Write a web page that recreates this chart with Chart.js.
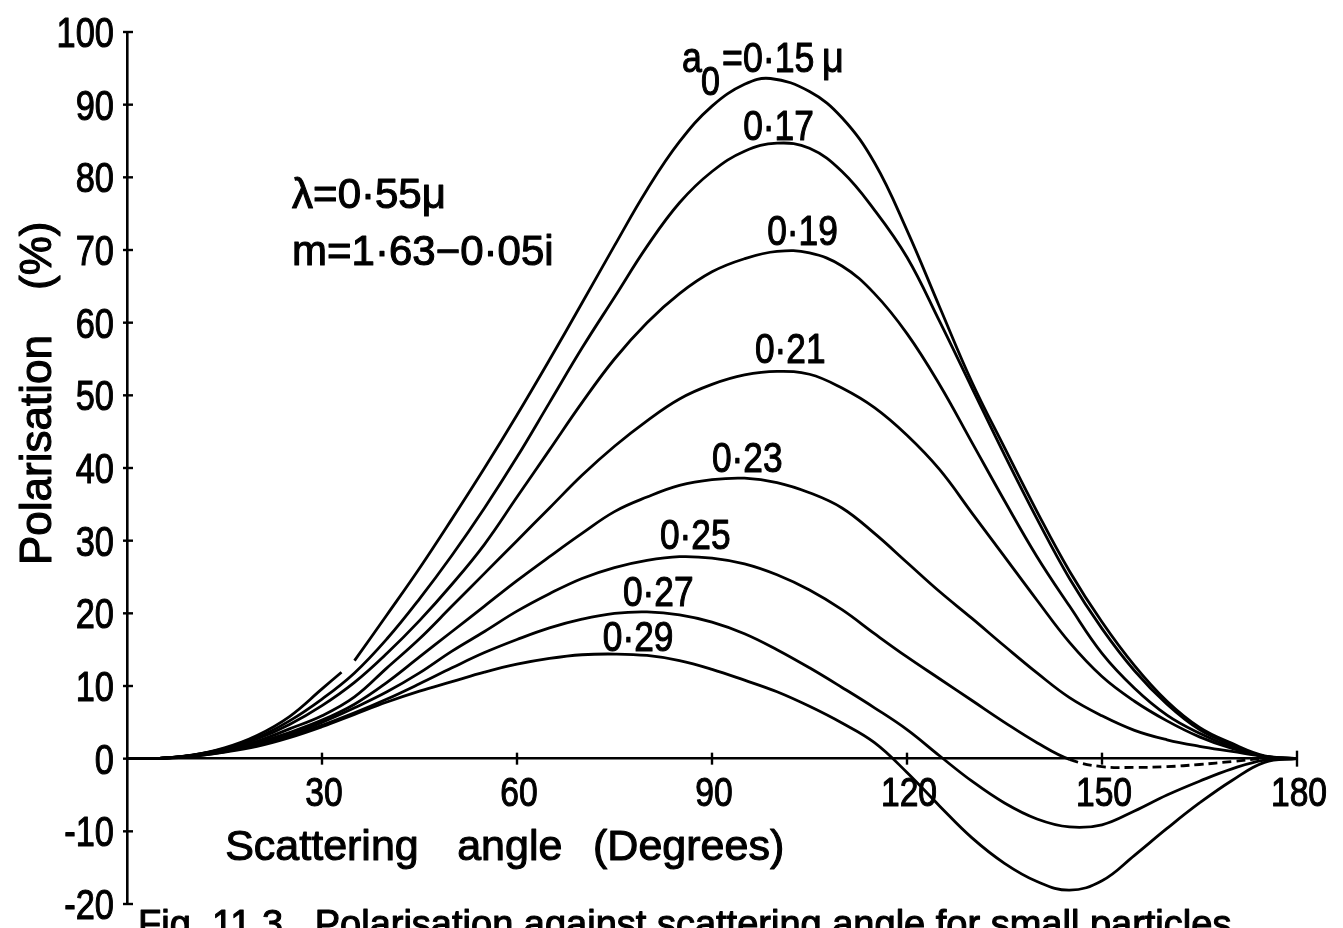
<!DOCTYPE html>
<html>
<head>
<meta charset="utf-8">
<script src="https://cdn.jsdelivr.net/npm/chart.js@4.4.1/dist/chart.umd.min.js"></script>
<style>
  html, body { margin: 0; padding: 0; background: #fff; }
  #wrap { width: 1343px; height: 928px; position: relative; }
</style>
</head>
<body>
<div id="wrap"><canvas id="chart" width="1343" height="928"></canvas></div>
<script>
// Scattering angle (degrees) shared by most curves
const angles = [0,5,10,15,20,25,30,35,40,45,50,55,60,65,70,75,80,85,90,95,100,105,110,115,120,125,130,135,140,145,150,155,160,165,170,175,180];

// a0 = 0.15 µm has its own angle list (the pen lifts just past 33°)
const angles015 = [0,5,10,15,20,25,30,33,34,35,40,45,50,55,60,65,70,75,80,85,90,95,99,105,110,115,120,125,130,135,140,145,150,155,160,165,170,175,180];
const pol015 = [0,0.05,0.5,1.5,3.2,5.8,9.6,11.9,null,13.5,19.8,26.2,33,40,47.3,54.9,62.7,70.6,78.3,84.9,89.8,92.8,93.6,91.8,88.2,82,72.7,62.2,51.8,42.8,34,25.8,18.8,12.8,7.9,4.3,2.1,0.4,0];

// Polarisation (%) for the other particle radii
const pol017 = [0,0.05,0.5,1.4,2.9,5.2,8.2,11.8,16.5,22,28,34.5,41.5,49,56.5,63.5,70.5,76.5,80.8,83.6,84.7,84,80.8,75.5,69,60.2,51,41.8,33,24.8,17.9,12.1,7.5,4,1.9,0.3,0];
const pol019 = [0,0.05,0.45,1.3,2.7,4.7,7.3,10.5,14.5,19,24,29.5,36,42.5,49,55,60,64,67,68.8,69.8,69.6,67.8,64,58.5,51.5,43.5,35.5,27.8,21,14.5,9.7,6,3.5,1.6,0.3,0];
const pol021 = [0,0.05,0.4,1.2,2.4,4.1,5.9,8.5,12.5,16.5,21,25.5,30,34.5,39,43,46.5,49.5,51.5,52.8,53.3,52.9,51,48.3,44.5,39.8,33.8,27.8,21.8,16,11.3,7.9,5.2,3.0,1.4,0.3,0];
const pol023 = [0,0.05,0.4,1.1,2.2,3.6,5.3,7.5,10.5,14,17.5,21,24.5,27.8,31,34,36,37.6,38.4,38.6,38,36.6,34.5,31,27,23,19.3,15.5,11.8,8.4,5.9,3.9,2.6,1.7,1.0,0.3,0];
const pol025 = [0,0.05,0.4,1.0,2.0,3.3,5.0,7,9.2,11.8,14.8,17.5,20.3,22.7,24.8,26.3,27.3,27.8,27.6,26.8,25.3,23.2,20.5,17.2,14,11,8,5,2.2,-0.1,-1.1,-1.2,-1.1,-0.8,-0.4,0,0];
const pol027 = [0,0.05,0.35,0.95,1.9,3.1,4.6,6.3,8.2,10.3,12.5,14.6,16.4,18,19.2,20,20.2,19.8,18.8,17.2,15,12.5,9.8,7,4,0.4,-3.1,-6.1,-8.3,-9.4,-9.1,-7.2,-5,-3.1,-1.4,-0.2,0];
const pol029 = [0,0.05,0.3,0.9,1.7,2.9,4.4,6.1,7.8,9.3,10.6,11.9,13,13.8,14.3,14.4,14.2,13.5,12.3,10.8,9.2,7.2,4.9,2.2,-1.9,-6.5,-10.9,-14.4,-16.9,-18.1,-16.8,-13.3,-9.6,-6.1,-3,-0.5,0];

// Curve labels (radius in µm, decimal point written as a raised dot)
const curveLabels = ['0·17','0·19','0·21','0·23','0·25','0·27','0·29'];

// Axis ticks
const xTicks = [30,60,90,120,150,180];
const yTicks = [-20,-10,0,10,20,30,40,50,60,70,80,90,100];

const FONT = "'Liberation Sans', Arial, 'DejaVu Sans', sans-serif";

function pairs(xs, ys) { return xs.map((x, i) => ({ x: x, y: ys[i] })); }

function curve(xs, ys, extra) {
  return Object.assign({
    data: pairs(xs, ys),
    showLine: true,
    borderColor: '#000',
    borderWidth: 2.8,
    pointRadius: 0,
    fill: false,
    tension: 0.4,
    spanGaps: false
  }, extra || {});
}

// Draws text at a pixel position, squeezed horizontally by sx and
// slightly emboldened, the way the drafting stencil looks.
function stencil(ctx, txt, px, py, size, sx, align) {
  ctx.save();
  ctx.font = size + 'px ' + FONT;
  ctx.translate(px, py);
  ctx.scale(sx, 1);
  ctx.textAlign = align || 'left';
  ctx.textBaseline = 'alphabetic';
  ctx.lineWidth = 1.1;
  ctx.lineJoin = 'round';
  ctx.fillText(txt, 0, 0);
  ctx.strokeText(txt, 0, 0);
  ctx.restore();
}

const annotations = {
  id: 'annotations',
  afterDraw(chart) {
    const { ctx, scales: { x, y } } = chart;
    ctx.save();
    ctx.fillStyle = '#000';
    ctx.strokeStyle = '#000';

    const x0 = x.getPixelForValue(0);
    const y0 = y.getPixelForValue(0);

    // crossing tick marks and tick labels
    ctx.lineWidth = 2.4;
    y.ticks.forEach(t => {
      const py = y.getPixelForValue(t.value);
      ctx.beginPath(); ctx.moveTo(x0 - 4, py); ctx.lineTo(x0 + 6, py); ctx.stroke();
      stencil(ctx, String(t.value), x0 - 13, py + 15, 43, 0.8, 'right');
    });
    x.ticks.forEach(t => {
      const px = x.getPixelForValue(t.value);
      const h = t.value === 180 ? 8 : 6;
      ctx.beginPath(); ctx.moveTo(px, y0 - h); ctx.lineTo(px, y0 + h); ctx.stroke();
      stencil(ctx, String(t.value), px + 2, y0 + 47, 41, 0.82, 'center');
    });

    // radius labels, anchored at (angle, polarisation): left edge, baseline
    const lx = x.getPixelForValue(85.4), ly = y.getPixelForValue(94.5);
    stencil(ctx, 'a', lx, ly, 42, 0.85);
    stencil(ctx, '0', lx + 19, ly + 23, 40, 0.85);
    stencil(ctx, '=0·15', lx + 40, ly, 42, 0.85);
    stencil(ctx, 'μ', lx + 140, ly, 42, 0.9);
    const spots = [[94.8,85.2],[98.5,70.7],[96.6,54.5],[90,39.4],[82,28.8],[76.3,21.0],[73.2,14.8]];
    curveLabels.forEach((t, i) => {
      stencil(ctx, t, x.getPixelForValue(spots[i][0]), y.getPixelForValue(spots[i][1]), 42, 0.84);
    });

    // wavelength and refractive index
    stencil(ctx, 'λ=0·55μ', x.getPixelForValue(25.4), y.getPixelForValue(75.8), 42, 1);
    stencil(ctx, 'm=1·63−0·05i', x.getPixelForValue(25.4), y.getPixelForValue(68.0), 42, 1);

    // x axis title
    const ty = y.getPixelForValue(-14.0);
    stencil(ctx, 'Scattering', x.getPixelForValue(15.1), ty, 43, 1);
    stencil(ctx, 'angle', x.getPixelForValue(50.8), ty, 43, 1);
    stencil(ctx, '(Degrees)', x.getPixelForValue(71.7), ty, 43, 1);

    // y axis title, reading upwards
    ctx.save();
    ctx.translate(x.left - 76, 0);
    ctx.rotate(-Math.PI / 2);
    stencil(ctx, 'Polarisation', -565, 0, 44, 1);
    stencil(ctx, '(%)', -290, 0, 44, 1);
    ctx.restore();

    // caption below the figure
    stencil(ctx, 'Fig. 11.3.  Polarisation against scattering angle for small particles', 138, 937, 38, 1);
    ctx.restore();
  }
};

new Chart(document.getElementById('chart'), {
  type: 'scatter',
  data: {
    datasets: [
      curve(angles015, pol015),
      curve(angles, pol017),
      curve(angles, pol019),
      curve(angles, pol021),
      curve(angles, pol023),
      curve(angles, pol025, {
        segment: { borderDash: c => (c.p0.parsed.x >= 145 ? [9, 5] : undefined) }
      }),
      curve(angles, pol027),
      curve(angles, pol029)
    ]
  },
  options: {
    responsive: false,
    animation: false,
    layout: { padding: { left: 0, right: 46, top: 32, bottom: 24 } },
    plugins: { legend: { display: false }, tooltip: { enabled: false } },
    scales: {
      x: {
        type: 'linear',
        min: 0, max: 180,
        position: { y: 0 },
        afterBuildTicks: s => { s.ticks = xTicks.map(v => ({ value: v })); },
        ticks: { display: false },
        grid: { display: false },
        border: { display: true, color: '#000', width: 2.6 }
      },
      y: {
        min: -20, max: 100,
        afterBuildTicks: s => { s.ticks = yTicks.map(v => ({ value: v })); },
        afterFit: s => { s.width = 127; },
        ticks: { display: false },
        grid: { display: false },
        border: { display: true, color: '#000', width: 2.6 }
      }
    }
  },
  plugins: [annotations]
});
</script>
</body>
</html>
